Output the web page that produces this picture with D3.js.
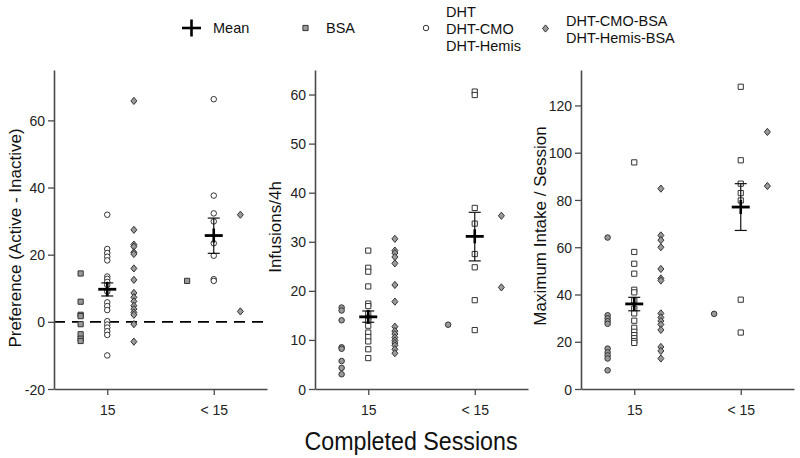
<!DOCTYPE html>
<html><head><meta charset="utf-8">
<script src="https://cdn.jsdelivr.net/npm/d3@7"></script>
<style>
body{margin:0;background:#fff}
svg{display:block}
text{font-family:"Liberation Sans",Arial,Helvetica,sans-serif}
</style>
</head><body>
<svg id="c" width="800" height="458"></svg>
<script>
// ---------- DATA ----------
const categories = ["15", "< 15"];
const legendLabels = [["Mean"], ["BSA"], ["DHT", "DHT-CMO", "DHT-Hemis"], ["DHT-CMO-BSA", "DHT-Hemis-BSA"]];

// Panel 1: Preference (Active - Inactive)
const prefLeft15   = [14.4, 6.0, 2.1, 1.7, -0.7, -3.7, -5.0, -5.7];
const prefLeftLt15 = [12.2];
const prefMid15    = [31.9, 21.7, 20.5, 19.4, 18.3, 13.5, 12.8, 11.9, 11.0, 9.0, 5.8, 4.7, 3.5, 0.2, -0.8, -1.7, -2.8, -3.9, -10.0];
const prefMidLt15  = [66.3, 37.6, 32.3, 29.9, 23.4, 19.7, 12.7, 12.2];
const prefRight15  = [65.8, 27.4, 23.0, 22.4, 20.7, 20.2, 15.9, 12.5, 8.6, 7.3, 6.1, 4.8, 3.8, 2.8, 2.1, -0.7, -5.9];
const prefRightLt15 = [31.9, 3.1];
const prefMean = [9.7, 25.7];
const prefSemHi = [11.6, 30.9];
const prefSemLo = [7.7, 20.4];

// Panel 2: Infusions/4h
const infLeft15   = [16.6, 16.0, 14.0, 8.5, 8.2, 5.7, 4.3, 3.0];
const infLeftLt15 = [13.1];
const infMid15    = [28.2, 24.7, 23.9, 20.9, 17.4, 16.9, 15.3, 14.5, 13.9, 12.9, 11.5, 10.6, 9.7, 8.1, 6.3];
const infMidLt15  = [60.6, 59.9, 36.9, 33.7, 27.5, 24.8, 18.1, 12.0];
const infRight15  = [30.6, 28.2, 27.7, 26.9, 25.6, 21.2, 17.8, 12.7, 11.8, 11.2, 10.5, 9.9, 9.4, 8.9, 8.1, 7.3];
const infRightLt15 = [35.3, 20.7];
const infMean = [14.7, 31.1];
const infSemHi = [15.9, 36.0];
const infSemLo = [13.6, 26.1];

// Panel 3: Maximum Intake / Session
const maxLeft15   = [64.1, 31.2, 29.9, 28.7, 27.6, 17.1, 15.5, 14.2, 12.9, 7.9];
const maxLeftLt15 = [31.8];
const maxMid15    = [95.9, 58.0, 53.0, 48.8, 42.0, 40.9, 37.5, 34.0, 32.0, 28.9, 25.9, 24.2, 22.8, 21.5, 20.3, 19.5];
const maxMidLt15  = [127.9, 96.8, 86.9, 82.9, 79.8, 37.8, 23.9];
const maxRight15  = [84.8, 65.0, 63.0, 60.0, 50.8, 46.8, 45.9, 32.0, 30.3, 28.8, 27.3, 25.0, 17.8, 16.1, 12.9];
const maxRightLt15 = [108.8, 85.9];
const maxMean = [36.0, 77.0];
const maxSemHi = [38.8, 86.9];
const maxSemLo = [33.1, 67.1];

const yTitles = ["Preference (Active - Inactive)", "Infusions/4h", "Maximum Intake / Session"];
const yTicks1 = [-20, 0, 20, 40, 60];
const yTicks2 = [0, 10, 20, 30, 40, 50, 60];
const yTicks3 = [0, 20, 40, 60, 80, 100, 120];
const xTitle = "Completed Sessions";

// ---------- DRAW ----------
const svg = d3.select("#c");
const GRAY = "#9a9a9a", STROKE = "#333";

function shapePath(shape) {
  if (shape === "square") return "M-2.6,-2.6H2.6V2.6H-2.6Z";
  if (shape === "circle") return d3.symbol(d3.symbolCircle, 24)();
  return "M0,-3.6L3,0L0,3.6L-3,0Z";
}

const panels = [
  {x0: 54, domain: [-20, 75], ticks: yTicks1, title: yTitles[0], tx: 21, ty: 238, zero: true,
   groups: [{shape: "square", fill: GRAY, d: [prefLeft15, prefLeftLt15]},
            {shape: "circle", fill: "#fff", d: [prefMid15, prefMidLt15]},
            {shape: "diamond", fill: GRAY, d: [prefRight15, prefRightLt15]}],
   mean: prefMean, hi: prefSemHi, lo: prefSemLo},
  {x0: 315, domain: [0, 65], ticks: yTicks2, title: yTitles[1], tx: 281, ty: 227, zero: false,
   groups: [{shape: "circle", fill: GRAY, d: [infLeft15, infLeftLt15]},
            {shape: "square", fill: "#fff", d: [infMid15, infMidLt15]},
            {shape: "diamond", fill: GRAY, d: [infRight15, infRightLt15]}],
   mean: infMean, hi: infSemHi, lo: infSemLo},
  {x0: 581, domain: [0, 135], ticks: yTicks3, title: yTitles[2], tx: 546, ty: 226, zero: false,
   groups: [{shape: "circle", fill: GRAY, d: [maxLeft15, maxLeftLt15]},
            {shape: "square", fill: "#fff", d: [maxMid15, maxMidLt15]},
            {shape: "diamond", fill: GRAY, d: [maxRight15, maxRightLt15]}],
   mean: maxMean, hi: maxSemHi, lo: maxSemLo}
];

const PW = 213, YT = 70, YB = 389;
const catPos = [2, 6];

panels.forEach(p => {
  const x = d3.scaleLinear().domain([0, 8]).range([p.x0, p.x0 + PW]);
  const y = d3.scaleLinear().domain(p.domain).range([YB, YT]);
  const g = svg.append("g");

  if (p.zero) {
    g.append("line").attr("x1", x(0)).attr("x2", x(8)).attr("y1", y(0)).attr("y2", y(0))
      .attr("stroke", "#000").attr("stroke-width", 1.6).attr("stroke-dasharray", "11,7");
  }

  const ya = g.append("g").attr("transform", `translate(${p.x0},0)`)
    .call(d3.axisLeft(y).tickValues(p.ticks).tickFormat(d => String(d)).tickSize(6).tickSizeOuter(0));
  const xa = g.append("g").attr("transform", `translate(0,${YB})`)
    .call(d3.axisBottom(x).tickValues(catPos).tickFormat((d, i) => categories[i]).tickSize(6).tickSizeOuter(0));
  [ya, xa].forEach(a => {
    a.select(".domain").attr("stroke", "#4a4a4a").attr("stroke-width", 1.6);
    a.selectAll(".tick line").attr("stroke", "#4a4a4a").attr("stroke-width", 1.3);
    a.selectAll(".tick text").attr("fill", "#222").style("font-size", "14px")
      .style("font-family", '"Liberation Sans",Arial,sans-serif');
  });
  ya.selectAll(".tick text").attr("dy", "0.36em");
  xa.selectAll(".tick text").attr("dy", "1.2em");

  g.append("text").attr("transform", `translate(${p.tx},${p.ty}) rotate(-90)`)
    .attr("text-anchor", "middle").style("font-size", "17px").attr("fill", "#111").text(p.title);

  p.groups.forEach((grp, gi) => {
    grp.d.forEach((vals, ci) => {
      const cx = x(catPos[ci] + gi - 1);
      g.selectAll(null).data(vals).enter().append("path")
        .attr("d", shapePath(grp.shape))
        .attr("transform", v => `translate(${cx},${y(v)})`)
        .attr("fill", grp.fill).attr("stroke", STROKE).attr("stroke-width", 1);
    });
  });

  p.mean.forEach((m, ci) => {
    const cx = x(catPos[ci]);
    g.append("line").attr("x1", cx).attr("x2", cx).attr("y1", y(p.hi[ci])).attr("y2", y(p.lo[ci]))
      .attr("stroke", "#111").attr("stroke-width", 1.2);
    [p.hi[ci], p.lo[ci]].forEach(v => {
      g.append("line").attr("x1", cx - 6).attr("x2", cx + 6).attr("y1", y(v)).attr("y2", y(v))
        .attr("stroke", "#111").attr("stroke-width", 1.2);
    });
    g.append("line").attr("x1", cx - 9).attr("x2", cx + 9).attr("y1", y(m)).attr("y2", y(m))
      .attr("stroke", "#000").attr("stroke-width", 2.8);
    g.append("line").attr("x1", cx).attr("x2", cx).attr("y1", y(m) - 7).attr("y2", y(m) + 7)
      .attr("stroke", "#000").attr("stroke-width", 2.6);
  });
});

svg.append("text").attr("x", 411).attr("y", 450).attr("text-anchor", "middle")
  .style("font-size", "26px").attr("fill", "#111").attr("textLength", 213)
  .attr("lengthAdjust", "spacingAndGlyphs").text(xTitle);

// legend
const leg = svg.append("g");
leg.append("line").attr("x1", 182).attr("x2", 201).attr("y1", 28).attr("y2", 28).attr("stroke", "#000").attr("stroke-width", 2.6);
leg.append("line").attr("x1", 191.5).attr("x2", 191.5).attr("y1", 19.5).attr("y2", 36.5).attr("stroke", "#000").attr("stroke-width", 2.6);
leg.append("path").attr("d", shapePath("square")).attr("transform", "translate(305.5,28)").attr("fill", GRAY).attr("stroke", STROKE);
leg.append("path").attr("d", shapePath("circle")).attr("transform", "translate(426,28)").attr("fill", "#fff").attr("stroke", STROKE);
leg.append("path").attr("d", shapePath("diamond")).attr("transform", "translate(545.5,28.5)").attr("fill", GRAY).attr("stroke", STROKE);

const legText = [
  {x: 213, ys: [32.5]},
  {x: 326, ys: [32.5]},
  {x: 446, ys: [16.7, 34, 51]},
  {x: 566, ys: [26, 42.7]}
];
legText.forEach((lt, i) => {
  legendLabels[i].forEach((s, j) => {
    leg.append("text").attr("x", lt.x).attr("y", lt.ys[j])
      .style("font-size", "14.5px").attr("fill", "#111").text(s);
  });
});
</script>
</body></html>
